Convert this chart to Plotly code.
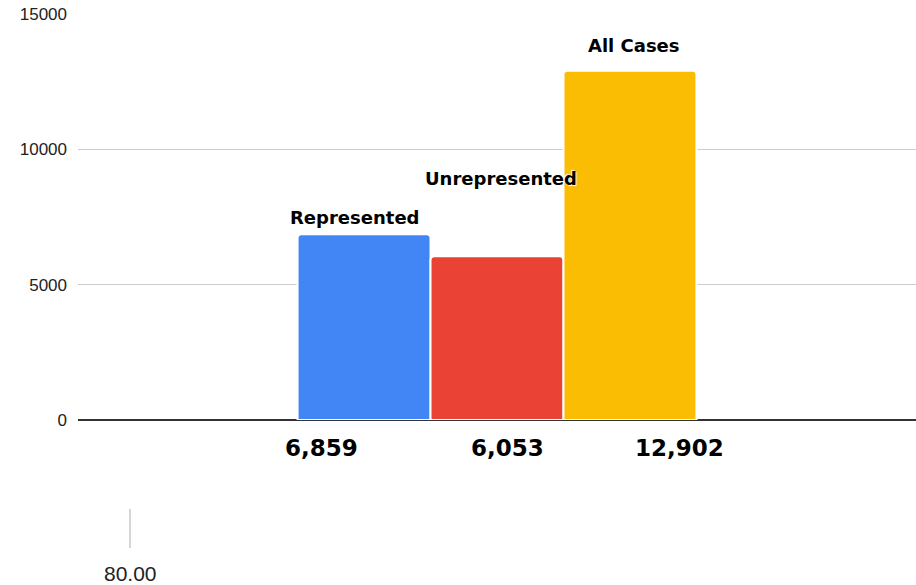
import plotly.graph_objects as go

series = ["Represented", "Unrepresented", "All Cases"]
values = [6859, 6053, 12902]
colors = ["#4285F4", "#EA4335", "#FBBC04"]
value_labels = ["6,859", "6,053", "12,902"]
y_ticks = [0, 5000, 10000, 15000]
category = [""]

fig = go.Figure()
for name, v, c in zip(series, values, colors):
    fig.add_trace(go.Bar(
        x=category, y=[v], name=name,
        marker=dict(color=c, line=dict(color="white", width=2), cornerradius=4),
        hoverinfo="y+name",
    ))

# series name labels above bars
name_pos = [(-0.17, 7500), (0.005, 8940), (0.163, 13820)]
for name, (x, y) in zip(series, name_pos):
    fig.add_annotation(x=x, y=y, xref="x", yref="y", text=f"<b>{name}</b>", showarrow=False,
                       font=dict(family="DejaVu Sans", size=18, color="black",
                                 shadow="1px 1px 1px white, -1px -1px 1px white"),
                       xanchor="center", yanchor="middle")

# value labels below axis
val_x = [-0.209, 0.012, 0.218]
for lab, x in zip(value_labels, val_x):
    fig.add_annotation(x=x, y=-0.07, xref="x", yref="paper", text=f"<b>{lab}</b>", showarrow=False,
                       font=dict(family="DejaVu Sans", size=23, color="black"),
                       xanchor="center", yanchor="middle")

# stray axis fragment at bottom-left
fig.add_shape(type="line", xref="paper", yref="paper", x0=(130 - 78) / 838, x1=(130 - 78) / 838,
              y0=-(509 - 420) / 406, y1=-(548 - 420) / 406, line=dict(color="#c8c8c8", width=1.5))
fig.add_annotation(x=(130 - 78) / 838, y=-(573 - 420) / 406, xref="paper", yref="paper", text="80.00",
                   showarrow=False, font=dict(family="Liberation Sans", size=21, color="#222"),
                   xanchor="center", yanchor="middle")

fig.update_layout(
    width=916, height=585,
    margin=dict(l=78, r=0, t=14, b=165),
    paper_bgcolor="white", plot_bgcolor="white",
    barmode="group", bargap=0.524, bargroupgap=0,
    showlegend=False,
    font=dict(family="Liberation Sans", size=17, color="#222"),
    xaxis=dict(showticklabels=False, showgrid=False, zeroline=False, showline=False, range=[-0.5, 0.5]),
    yaxis=dict(range=[0, 15000], tickvals=y_ticks, ticktext=[str(t) for t in y_ticks],
               showgrid=True, gridcolor="#cccccc", gridwidth=1,
               zeroline=True, zerolinecolor="#333333", zerolinewidth=1.5,
               ticks="", ticklabelstandoff=10, tickfont=dict(size=17, color="#222")),
)

fig.write_html("out.html", config={"displayModeBar": False},
               post_script="document.body.style.margin='0';document.body.style.overflow='hidden';")
